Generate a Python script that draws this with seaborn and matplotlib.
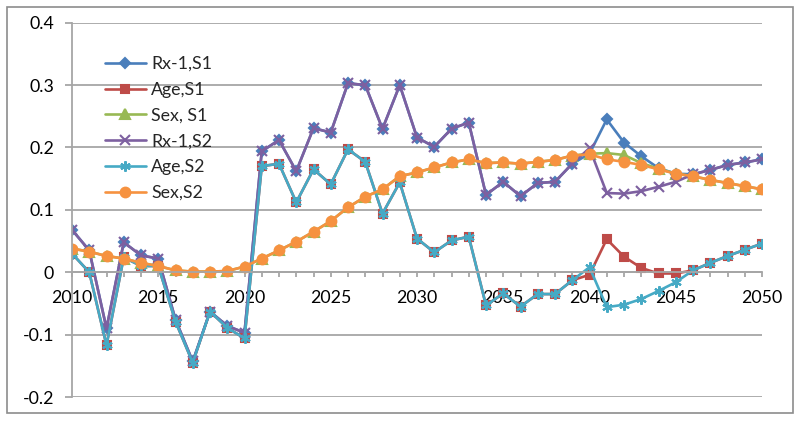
import numpy as np
import pandas as pd
import matplotlib
matplotlib.use("Agg")
import matplotlib.pyplot as plt
import seaborn as sns
from matplotlib.patches import Rectangle
from matplotlib.ticker import MultipleLocator

years = list(range(2010, 2051))

# values, 2010..2050
rx1_s2 = [0.068, 0.035, -0.090, 0.048, 0.027, 0.022, -0.076, -0.143, -0.063, -0.086, -0.097,
          0.194, 0.212, 0.162, 0.231, 0.224, 0.303, 0.300, 0.230, 0.300, 0.216,
          0.201, 0.230, 0.240, 0.124, 0.145, 0.122, 0.143, 0.145, 0.174, 0.199,
          0.127, 0.126, 0.130, 0.137, 0.145, 0.157, 0.164, 0.172, 0.176, 0.181]
rx1_s1 = [0.068, 0.035, -0.090, 0.048, 0.027, 0.022, -0.076, -0.143, -0.063, -0.086, -0.097,
          0.194, 0.212, 0.162, 0.231, 0.224, 0.303, 0.300, 0.230, 0.300, 0.216,
          0.201, 0.230, 0.240, 0.124, 0.145, 0.122, 0.143, 0.145, 0.174, 0.190,
          0.245, 0.208, 0.186, 0.167, 0.158, 0.157, 0.164, 0.172, 0.176, 0.181]
age_s2 = [0.030, 0.000, -0.117, 0.024, 0.010, 0.010, -0.079, -0.145, -0.063, -0.089, -0.106,
          0.170, 0.174, 0.112, 0.165, 0.141, 0.197, 0.177, 0.094, 0.144, 0.054,
          0.032, 0.051, 0.057, -0.053, -0.034, -0.055, -0.035, -0.035, -0.013, 0.008,
          -0.056, -0.052, -0.043, -0.030, -0.016, 0.003, 0.015, 0.026, 0.036, 0.046]
age_s1 = [0.030, 0.000, -0.117, 0.024, 0.010, 0.010, -0.079, -0.145, -0.063, -0.089, -0.106,
          0.170, 0.174, 0.112, 0.165, 0.141, 0.197, 0.177, 0.094, 0.144, 0.054,
          0.032, 0.051, 0.057, -0.053, -0.034, -0.055, -0.035, -0.035, -0.013, -0.004,
          0.053, 0.025, 0.007, -0.002, -0.002, 0.003, 0.015, 0.026, 0.036, 0.046]
sex_s2 = [0.038, 0.033, 0.026, 0.022, 0.015, 0.010, 0.003, 0.001, 0.001, 0.002, 0.009,
          0.022, 0.035, 0.049, 0.065, 0.082, 0.104, 0.121, 0.133, 0.154, 0.160,
          0.168, 0.176, 0.181, 0.175, 0.176, 0.174, 0.177, 0.180, 0.187, 0.189,
          0.181, 0.177, 0.172, 0.165, 0.158, 0.154, 0.148, 0.143, 0.138, 0.133]
sex_s1 = [0.038, 0.033, 0.026, 0.022, 0.015, 0.010, 0.003, 0.001, 0.001, 0.002, 0.009,
          0.022, 0.035, 0.049, 0.065, 0.082, 0.104, 0.121, 0.133, 0.154, 0.160,
          0.168, 0.176, 0.181, 0.175, 0.176, 0.174, 0.177, 0.180, 0.187, 0.190,
          0.191, 0.188, 0.175, 0.166, 0.158, 0.154, 0.148, 0.143, 0.138, 0.133]

series = [
    ("Rx-1,S1", rx1_s1, "#4A7EBB", "D", 5.5),
    ("Age,S1", age_s1, "#BE4B48", "s", 6.0),
    ("Sex, S1", sex_s1, "#98B954", "^", 6.5),
    ("Rx-1,S2", rx1_s2, "#7D60A0", "x", 6.5),
    ("Age,S2", age_s2, "#46AAC5", (6, 2, 0), 7.5),
    ("Sex,S2", sex_s2, "#F69240", "o", 7.0),
]

sns.set_style("white")
plt.rcParams['font.family'] = ['Lato', 'DejaVu Sans']

fig = plt.figure(figsize=(8, 4.21), dpi=100)
ax = fig.add_axes([0.09, 0.057, 0.8625, 0.889])

for name, vals, col, mk, ms in series:
    df = pd.DataFrame({"year": years, "value": vals})
    sns.lineplot(data=df, x="year", y="value", ax=ax, color=col, marker=mk,
                 markersize=ms, markeredgecolor=col, markeredgewidth=1.5,
                 linewidth=1.9, label=name)

gray = "#A6A6A6"
ax.set_xlim(2010, 2050)
ax.set_ylim(-0.2, 0.4)
ax.xaxis.set_major_locator(MultipleLocator(5))
ax.xaxis.set_minor_locator(MultipleLocator(1))
ax.set_yticks([-0.2, -0.1, 0, 0.1, 0.2, 0.3, 0.4])
ax.set_yticklabels(["-0.2", "-0.1", "0", "0.1", "0.2", "0.3", "0.4"])
ax.grid(axis="y", color=gray, linewidth=1.3)
ax.set_axisbelow(True)
ax.set_xlabel("")
ax.set_ylabel("")

for s in ["top", "right"]:
    ax.spines[s].set_visible(False)
ax.spines["left"].set_color(gray)
ax.spines["left"].set_linewidth(1.3)
ax.spines["bottom"].set_position(("data", 0))
ax.spines["bottom"].set_color(gray)
ax.spines["bottom"].set_linewidth(1.3)

ax.tick_params(axis="y", which="major", left=True, length=5, width=1.3, color=gray,
               labelsize=12.8, pad=8, labelcolor="black")
ax.tick_params(axis="x", which="both", bottom=True, length=3.5, width=1.3, color=gray,
               labelsize=12.8, pad=9, labelcolor="black")

leg = ax.legend(loc="upper left", bbox_to_anchor=(0.12, 0.888), bbox_transform=fig.transFigure,
                frameon=False, fontsize=12.8, handlelength=2.3, labelspacing=0.55,
                handletextpad=0.3, borderpad=0)

fig.patches.append(Rectangle((7 / 800, 1 - 413 / 421), 786 / 800, 406 / 421,
                             transform=fig.transFigure, fill=False,
                             edgecolor="#8C8C8C", linewidth=1.2))

fig.savefig("out.png", dpi=100)
